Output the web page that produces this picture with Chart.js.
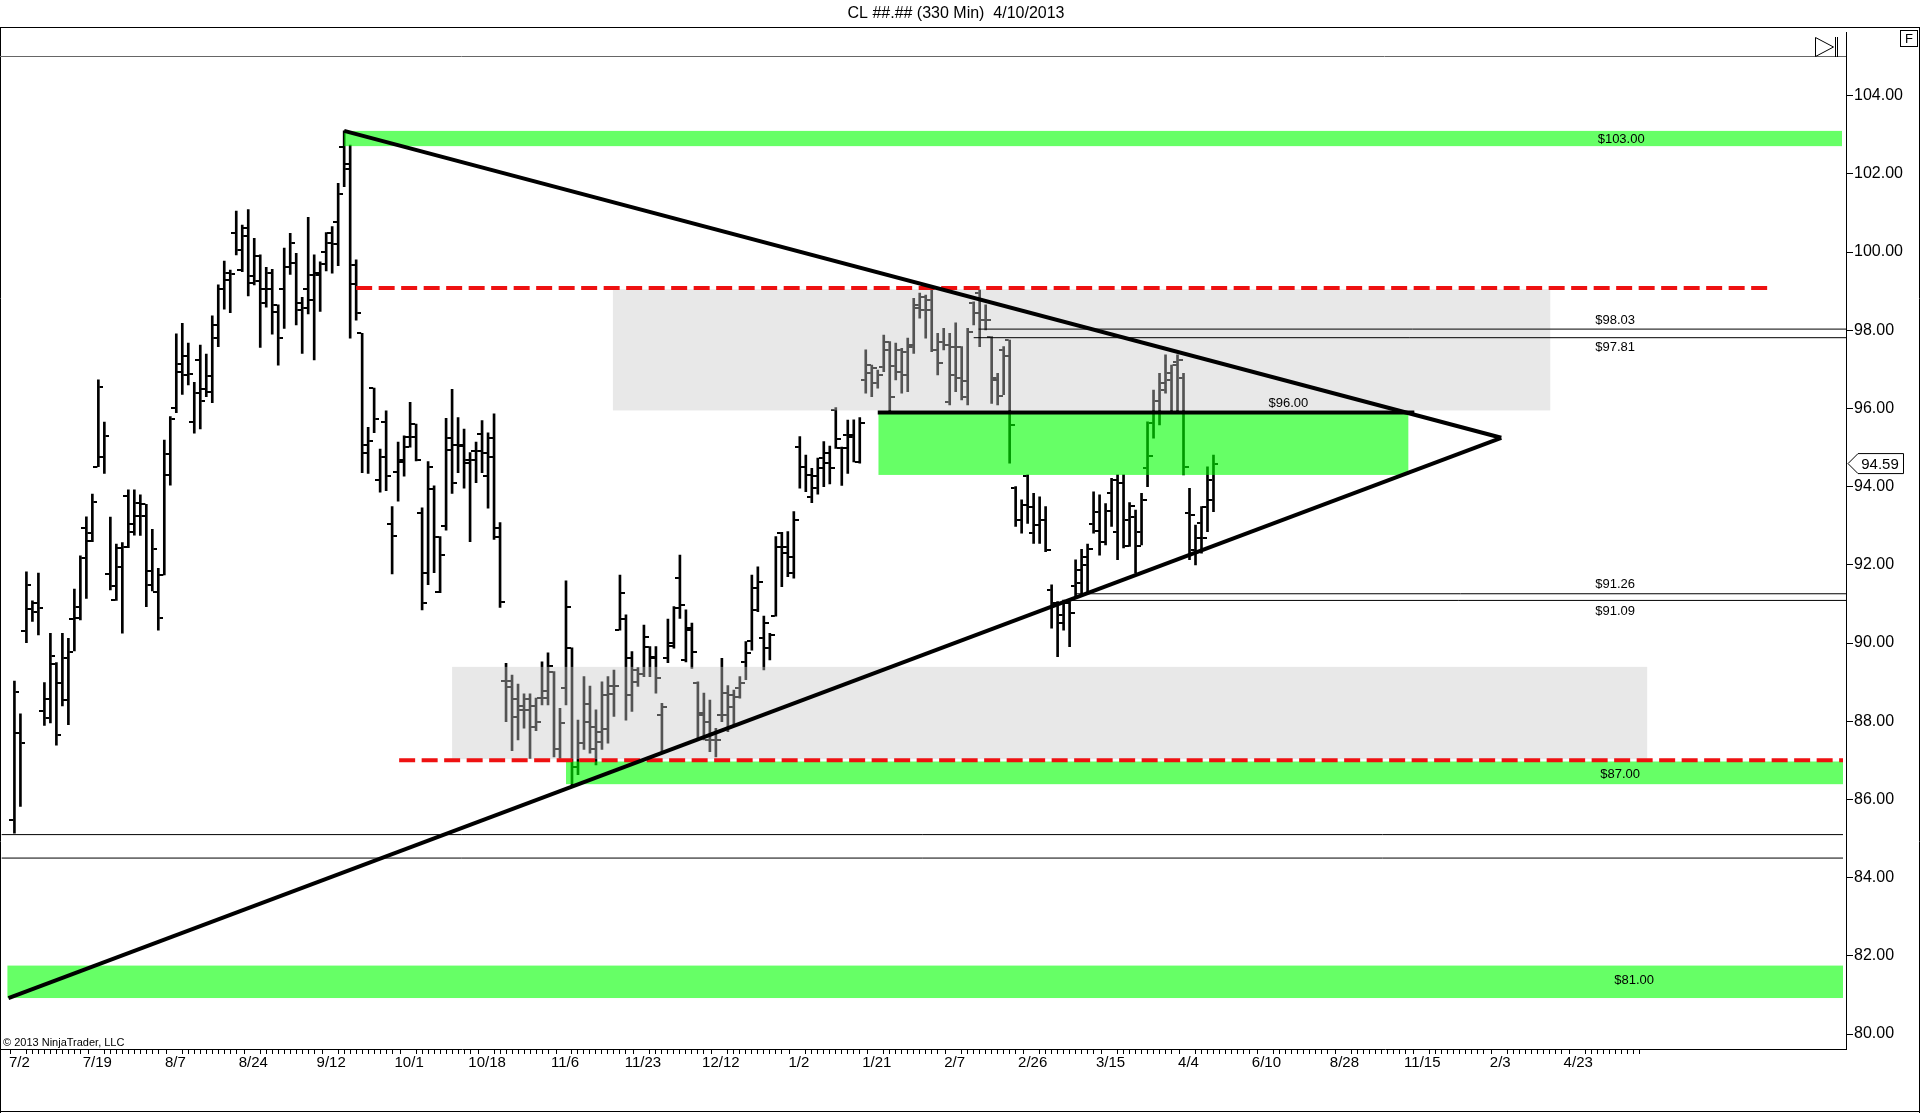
<!DOCTYPE html>
<html><head><meta charset="utf-8">
<style>html,body{margin:0;padding:0;background:#fff;overflow:hidden}canvas{display:block}</style>
<script src="https://cdn.jsdelivr.net/npm/chart.js@4.4.1/dist/chart.umd.min.js"></script>
</head><body>
<canvas id="c" width="1920" height="1113" style="width:1920px;height:1113px"></canvas>
<script>
// ---- OHLC data (one bar per slot, 7/2/2012 .. 4/10/2013) ----
const opens = [
85.48,87.71,90.32,90.86,91.03,88.25,88.57,89.46,88.97,88.54,
90.61,90.65,92.94,92.60,94.51,94.75,91.76,91.10,92.42,93.76,
93.05,93.25,93.55,91.85,91.31,91.74,94.30,96.00,96.94,97.33,
95.66,97.24,96.49,96.43,98.14,99.05,99.29,100.50,99.55,100.62,
99.20,99.90,99.06,99.06,98.48,99.05,99.63,99.73,98.71,99.05,
98.78,99.46,100.01,100.50,100.78,102.68,102.25,99.18,97.92,94.85,
96.52,94.17,95.66,93.05,94.37,94.64,95.26,95.60,93.32,91.79,
93.93,91.31,93.00,94.94,95.07,95.04,94.60,94.90,95.34,94.27,
95.24,92.94,89.04,88.87,88.56,88.39,88.29,88.39,88.59,88.78,
89.27,87.30,88.84,89.88,86.84,87.44,87.99,87.30,87.48,87.80,
88.70,90.33,90.62,89.63,89.01,89.21,89.89,89.65,88.16,89.61,
89.99,91.66,89.57,90.33,88.99,88.16,87.52,87.52,88.16,88.16,
88.37,88.84,89.52,90.04,90.85,90.12,89.87,90.69,92.81,92.46,
91.79,95.01,94.51,93.74,93.96,94.73,94.60,95.96,94.98,95.32,
95.28,94.64,96.73,96.90,96.64,97.07,97.50,97.09,97.50,97.45,
97.58,98.65,98.52,98.77,97.50,97.71,96.17,96.86,96.77,96.30,
98.69,98.95,98.26,97.83,96.77,97.50,97.75,93.96,93.15,94.26,
92.81,93.02,93.15,91.36,91.02,90.72,91.02,91.45,91.53,92.00,
93.04,93.36,92.59,93.85,92.85,94.09,93.15,93.23,92.85,94.47,
95.62,95.92,96.47,96.73,97.20,96.77,93.32,92.38,93.06,93.49,
93.66];
const highs = [
89.03,88.19,91.82,91.08,91.79,88.99,90.25,89.50,90.25,90.12,
91.38,92.23,93.23,93.81,96.73,95.65,93.22,92.53,92.57,93.92,
93.92,93.79,93.55,92.91,91.91,95.19,95.79,97.91,98.18,97.67,
96.67,97.62,97.39,98.37,99.16,99.77,99.54,101.05,100.69,101.09,
100.35,99.93,99.61,99.56,98.65,100.10,100.48,99.97,98.84,100.89,
99.93,99.75,100.50,100.65,101.76,103.10,102.74,99.80,97.92,95.52,
96.52,94.96,95.94,93.49,95.14,95.30,96.16,95.60,93.46,94.64,
94.02,92.72,95.75,96.49,95.77,95.47,94.87,95.14,95.69,95.38,
95.86,93.08,89.48,89.18,88.95,88.70,88.70,88.59,89.52,89.75,
89.27,88.33,91.59,89.88,88.03,89.14,88.90,88.29,89.01,89.14,
89.31,91.74,90.72,89.78,89.37,90.46,89.91,89.91,88.46,90.61,
90.93,92.25,90.85,90.51,89.01,88.72,88.54,87.82,89.61,88.91,
88.80,89.14,90.04,91.74,91.95,90.69,90.25,92.72,92.83,92.85,
93.36,95.28,94.81,94.47,94.73,95.15,95.04,96.02,95.01,95.70,
95.71,95.77,97.50,97.11,96.98,97.88,97.71,97.67,97.54,97.80,
98.82,98.95,98.90,99.07,97.92,98.05,97.92,98.19,97.58,98.05,
98.73,99.03,98.65,97.84,96.90,97.58,97.75,94.00,93.66,94.30,
93.83,93.74,93.49,91.49,91.06,91.10,91.06,92.13,92.40,92.53,
93.87,93.79,93.57,94.21,94.30,94.30,93.59,93.40,93.83,95.66,
96.47,96.90,97.37,97.11,97.37,96.90,93.96,93.02,93.49,94.51,
94.81];
const lows = [
85.14,85.82,90.01,90.55,90.21,87.89,87.96,87.39,88.39,87.91,
89.80,90.59,91.14,92.59,94.51,94.34,91.36,91.09,90.25,92.44,
92.76,92.75,90.93,91.33,90.33,91.74,94.04,95.89,96.36,96.60,
95.37,95.48,96.30,96.15,97.58,98.54,98.45,99.93,99.50,98.88,
99.16,97.56,98.59,97.90,97.11,98.05,99.43,98.14,97.41,98.42,
97.24,98.48,99.52,99.46,99.65,101.67,97.80,98.26,94.36,94.34,
95.38,93.86,93.90,91.77,93.63,94.27,95.01,94.66,90.85,91.49,
91.80,91.29,92.89,93.83,94.36,93.96,92.59,94.10,94.36,93.45,
92.65,90.91,87.99,87.25,87.52,87.82,87.05,87.76,88.42,88.42,
87.09,87.05,88.42,86.37,86.63,87.28,87.18,86.88,87.28,87.44,
88.12,90.33,88.03,88.25,88.89,89.14,89.14,88.72,87.18,89.50,
89.87,90.63,89.52,89.35,87.52,87.52,87.22,87.09,87.99,87.73,
87.90,88.59,89.06,89.82,90.80,89.31,89.57,90.69,91.44,91.70,
91.66,93.96,93.87,93.59,93.81,94.00,94.07,94.98,94.03,94.34,
94.63,94.60,96.39,96.30,96.52,96.94,95.92,96.73,96.39,96.43,
97.41,98.31,97.80,97.45,96.86,97.50,96.09,96.43,96.22,96.09,
98.14,97.58,98.01,96.13,96.09,96.35,94.60,92.98,92.81,93.06,
92.55,92.55,92.34,90.38,89.65,90.33,89.91,91.19,91.23,91.27,
92.81,92.25,92.51,92.98,92.13,92.43,92.47,91.79,92.51,94.00,
95.24,95.58,96.39,95.92,95.92,94.30,92.13,92.00,92.30,92.85,
93.36];
const closes = [
88.76,87.45,91.49,90.80,90.89,88.09,89.68,87.65,89.63,89.78,
90.91,92.18,92.82,93.62,96.54,95.30,91.47,91.95,92.45,92.84,
93.59,93.25,91.49,92.41,90.63,94.84,95.73,97.13,96.86,96.87,
96.39,96.20,96.84,97.81,99.05,99.47,99.45,100.05,100.42,99.39,
99.27,98.71,99.47,98.65,97.80,99.63,100.22,98.52,98.56,99.41,
99.41,99.70,100.22,100.20,101.48,102.12,99.67,98.43,95.07,95.18,
95.73,94.77,94.27,92.74,94.68,95.02,95.26,94.68,91.02,94.51,
92.71,92.25,95.24,94.09,95.07,94.68,94.68,94.90,94.87,94.77,
92.72,91.04,89.04,88.10,88.29,88.56,87.86,87.99,88.59,89.40,
87.28,87.96,90.93,86.84,87.44,88.44,87.86,87.73,88.67,88.90,
88.89,91.27,88.67,89.31,89.22,90.16,89.61,89.10,88.37,89.93,
90.89,90.97,90.38,89.78,88.20,87.99,87.70,87.52,88.72,88.66,
88.63,88.99,89.74,91.40,91.57,90.50,90.21,92.45,92.30,92.21,
93.15,94.51,94.30,94.26,94.47,94.85,94.47,95.22,94.98,95.32,
94.64,95.62,97.11,97.03,96.86,97.71,96.30,96.94,96.86,97.62,
98.56,98.86,98.52,97.50,97.16,97.62,97.58,97.58,96.69,97.96,
98.43,98.26,98.26,96.73,96.33,97.34,95.58,93.15,93.53,93.49,
93.02,93.15,92.38,91.02,90.51,91.02,90.76,91.87,92.21,92.40,
92.87,92.59,93.38,94.17,94.09,92.47,93.51,92.47,93.66,94.78,
96.19,96.64,96.90,97.11,97.24,94.51,93.28,92.68,92.68,94.17,
94.59];
const xTickLabels = ['7/2','7/19','8/7','8/24','9/12','10/1','10/18','11/6','11/23','12/12','1/2','1/21','2/7','2/26','3/15','4/4','6/10','8/28','11/15','2/3','4/23'];
const yTickValues = [80,82,84,86,88,90,92,94,96,98,100,102,104];
const lastPrice = 94.59;
const titleText = 'CL ##.## (330 Min)  4/10/2013';

// ---- drawing objects (x in bar-slot units, y in price) ----
const trendLines = [
  {x0: 55, y0: 103.10, x1: 248, y1: 95.25},
  {x0: -1, y0: 80.92, x1: 248, y1: 95.25}
];
const levelLines = [
  {y: 99.08, x0: 57, x1: 292.5, kind: 'redDash'},
  {y: 87.00, x0: 64.17, x1: 305, kind: 'redDash'},
  {y: 95.90, x0: 144, x1: 233.5, kind: 'thick'},
  {y: 98.03, x0: 160.83, x1: 305.5, kind: 'thin'},
  {y: 97.81, x0: 160, x1: 305.5, kind: 'thin'},
  {y: 91.26, x0: 176.95, x1: 305.5, kind: 'thin'},
  {y: 91.09, x0: 176.12, x1: 305.5, kind: 'thin'},
  {y: 85.10, x0: -2.17, x1: 305, kind: 'thin'},
  {y: 84.50, x0: -2.17, x1: 305, kind: 'thin'}
];
const zones = [
  {x0: 99.83, x1: 256.17, y0: 95.95, y1: 99.05, kind: 'gray'},
  {x0: 73, x1: 272.33, y0: 87.03, y1: 89.39, kind: 'gray'},
  {x0: 55, x1: 304.83, y0: 102.71, y1: 103.10, kind: 'green'},
  {x0: 144.12, x1: 232.5, y0: 94.30, y1: 95.89, kind: 'green'},
  {x0: 92, x1: 305, y0: 86.39, y1: 86.97, kind: 'green'},
  {x0: -1.17, x1: 305, y0: 80.92, y1: 81.75, kind: 'green'}
];
const levelLabels = [
  {text: '$103.00', x: 268, y: 102.89},
  {text: '$98.03', x: 267, y: 98.24},
  {text: '$97.81', x: 267, y: 97.57},
  {text: '$96.00', x: 212.5, y: 96.14},
  {text: '$91.26', x: 267, y: 91.51},
  {text: '$91.09', x: 267, y: 90.82},
  {text: '$87.00', x: 267.83, y: 86.63},
  {text: '$81.00', x: 270.17, y: 81.36}
];

const styles = {
  redDash: {color: '#ee1111', width: 4, dash: [16, 6.5]},
  thick: {color: '#000', width: 4, dash: []},
  thin: {color: '#000', width: 1, dash: []},
  gray: 'rgba(200,200,200,0.42)',
  green: 'rgba(0,255,0,0.6)'
};

const X_MIN = -13 / 6, X_MAX = X_MIN + 1846 / 6;
const Y_MIN = 80 - 15 / 39.096, Y_MAX = 104 + 39.7 / 39.096;

// x-axis ticks: major (labelled) every 13 slots, minor in between
const xTickVals = [], xTickText = [];
for (let k = 0; k < xTickLabels.length; k++) {
  xTickVals.push(13 * k - 0.667); xTickText.push(xTickLabels[k]);
  for (let j = 2; j <= 11; j++) { xTickVals.push(13 * k + j); xTickText.push(''); }
}

Chart.defaults.font.family = "'Liberation Sans', Arial, sans-serif";
Chart.defaults.color = '#000';

function tickImg(side) {
  const c = document.createElement('canvas'); c.width = 10; c.height = 2;
  const g = c.getContext('2d'); g.fillStyle = '#000';
  if (side === 'L') g.fillRect(0, 0, 4, 2); else g.fillRect(6, 0, 4, 2);
  return c;
}

const idx = opens.map((_, i) => i);
const lineSets = [];
trendLines.forEach(t => lineSets.push({
  type: 'line', data: [{x: t.x0, y: t.y0}, {x: t.x1, y: t.y1}],
  borderColor: '#000', borderWidth: 4, pointRadius: 0, fill: false, tension: 0, order: 1
}));
levelLines.forEach(l => { const s = styles[l.kind]; lineSets.push({
  type: 'line', data: [{x: l.x0, y: l.y}, {x: l.x1, y: l.y}],
  borderColor: s.color, borderWidth: s.width, borderDash: s.dash, borderCapStyle: 'butt',
  pointRadius: 0, fill: false, tension: 0, order: l.kind === 'thin' ? 2 : 1
}); });

const overlay = {
  id: 'overlay',
  beforeDraw(chart) {
    const ctx = chart.ctx; ctx.save(); ctx.fillStyle = '#fff';
    ctx.fillRect(0, 0, chart.width, chart.height); ctx.restore();
  },
  afterDatasetDraw(chart, args) {
    if (!args.meta || args.index !== 0) return;
    const {ctx, scales: {x, y}, chartArea: a} = chart;
    ctx.save();
    ctx.beginPath(); ctx.rect(a.left, a.top, a.right - a.left, a.bottom - a.top); ctx.clip();
    zones.forEach(z => {
      const px0 = x.getPixelForValue(z.x0), px1 = x.getPixelForValue(z.x1);
      const py0 = y.getPixelForValue(z.y1), py1 = y.getPixelForValue(z.y0);
      ctx.fillStyle = styles[z.kind];
      ctx.fillRect(px0, py0, px1 - px0, py1 - py0);
    });
    ctx.restore();
  },
  afterDraw(chart) {
    const {ctx, scales: {x, y}} = chart;
    ctx.save();
    // level labels
    ctx.fillStyle = '#000'; ctx.font = "13px 'Liberation Sans', Arial, sans-serif";
    ctx.textAlign = 'center'; ctx.textBaseline = 'middle';
    levelLabels.forEach(l => ctx.fillText(l.text, x.getPixelForValue(l.x), y.getPixelForValue(l.y)));
    // frame
    ctx.strokeStyle = '#000'; ctx.lineWidth = 1;
    ctx.beginPath();
    ctx.moveTo(0, 27.5); ctx.lineTo(1920, 27.5);
    ctx.moveTo(0.5, 27); ctx.lineTo(0.5, 1113);
    ctx.moveTo(0, 1111.5); ctx.lineTo(1920, 1111.5);
    ctx.moveTo(1919.5, 27); ctx.lineTo(1919.5, 1113);
    ctx.moveTo(1846.5, 32); ctx.lineTo(1846.5, 57);
    ctx.stroke();
    ctx.strokeStyle = '#666';
    ctx.beginPath(); ctx.moveTo(0, 56.5); ctx.lineTo(1846, 56.5); ctx.stroke();
    // play-to-end icon
    ctx.strokeStyle = '#000';
    ctx.beginPath(); ctx.moveTo(1815.5, 37.5); ctx.lineTo(1833.5, 47); ctx.lineTo(1815.5, 56.5); ctx.closePath(); ctx.stroke();
    ctx.beginPath(); ctx.moveTo(1835.5, 37); ctx.lineTo(1835.5, 57); ctx.moveTo(1837.5, 37); ctx.lineTo(1837.5, 57); ctx.stroke();
    // F box
    ctx.strokeRect(1900.5, 30.5, 17, 16);
    ctx.font = "13px 'Liberation Sans', Arial, sans-serif";
    ctx.fillText('F', 1909, 39);
    // title
    ctx.font = "16px 'Liberation Sans', Arial, sans-serif";
    ctx.fillText(titleText, 956, 14);
    // copyright
    ctx.textAlign = 'left';
    ctx.font = "11px 'Liberation Sans', Arial, sans-serif";
    ctx.fillText('\u00A9 2013 NinjaTrader, LLC', 3, 1043);
    // last price marker
    const py = y.getPixelForValue(lastPrice);
    ctx.fillStyle = '#fff'; ctx.strokeStyle = '#000';
    ctx.beginPath();
    ctx.moveTo(1848, py); ctx.lineTo(1858, py - 10); ctx.lineTo(1903.5, py - 10);
    ctx.lineTo(1903.5, py + 10); ctx.lineTo(1858, py + 10); ctx.closePath();
    ctx.fill(); ctx.stroke();
    ctx.fillStyle = '#000'; ctx.textAlign = 'center';
    ctx.font = "15px 'Liberation Sans', Arial, sans-serif";
    ctx.fillText(lastPrice.toFixed(2), 1880, py + 1);
    ctx.restore();
  }
};

new Chart(document.getElementById('c'), {
  type: 'bar',
  data: {
    datasets: [
      {type: 'bar', label: 'range', data: idx.map(i => ({x: i, y: [lows[i], highs[i]]})),
       backgroundColor: '#000', borderWidth: 0, barThickness: 2, grouped: false, order: 11},
      {type: 'scatter', label: 'open', data: idx.map(i => ({x: i, y: opens[i]})),
       pointStyle: tickImg('L'), pointRadius: 3, order: 12},
      {type: 'scatter', label: 'close', data: idx.map(i => ({x: i, y: closes[i]})),
       pointStyle: tickImg('R'), pointRadius: 3, order: 12},
      ...lineSets
    ]
  },
  options: {
    responsive: false, animation: false, events: [],
    layout: {padding: {top: 56, left: 0, right: 0, bottom: 0}, autoPadding: false},
    plugins: {legend: {display: false}, tooltip: {enabled: false}, title: {display: false}},
    scales: {
      x: {
        type: 'linear', min: X_MIN, max: X_MAX, offset: false,
        grid: {display: true, drawOnChartArea: false, drawTicks: true, tickLength: 5, color: '#000', offset: false},
        border: {display: true, color: '#000', width: 1},
        ticks: {autoSkip: false, maxRotation: 0, minRotation: 0, labelOffset: 9, padding: 0, color: '#000',
                font: {size: 15}, callback: (v, i) => xTickText[i]},
        afterBuildTicks: s => { s.ticks = xTickVals.map(v => ({value: v})); },
        afterFit: s => { s.height = 64; }
      },
      y: {
        type: 'linear', position: 'right', min: Y_MIN, max: Y_MAX,
        grid: {drawOnChartArea: false, drawTicks: true, tickLength: 7, color: '#000'},
        border: {display: true, color: '#000', width: 1},
        ticks: {padding: 1, color: '#000', font: {size: 16}, callback: v => Number(v).toFixed(2)},
        afterBuildTicks: s => { s.ticks = yTickValues.map(v => ({value: v})); },
        afterFit: s => { s.width = 74; }
      }
    }
  },
  plugins: [overlay]
});
</script>
</body></html>
